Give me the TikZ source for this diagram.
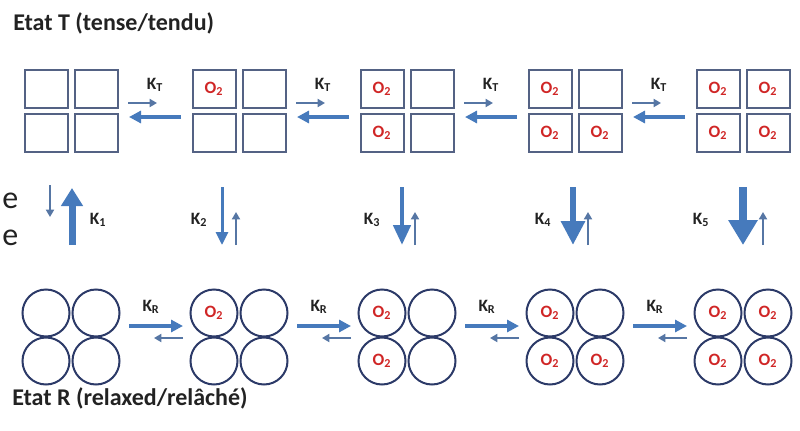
\documentclass[tikz,border=0pt]{standalone}
\usepackage{fontspec}
\setmainfont{Carlito}
\usetikzlibrary{arrows.meta,calc}
\definecolor{bordcarre}{RGB}{84,98,132}
\definecolor{bordrond}{RGB}{44,58,104}
\definecolor{bleufleche}{RGB}{70,122,188}
\definecolor{bleufin}{RGB}{86,118,164}
\definecolor{rougeO}{RGB}{208,38,38}
\definecolor{texte}{RGB}{34,34,34}

\begin{document}
\begin{tikzpicture}[x=0.75pt, y=0.75pt,
  oxy/.style={text=rougeO, font=\bfseries\fontsize{13}{13}\selectfont},
  carre/.style={draw=bordcarre, line width=1.5pt, minimum width=32.25pt, minimum height=28.5pt, inner sep=0pt, oxy},
  cercle/.style={draw=bordrond, circle, line width=1.5pt, minimum size=35.25pt, inner sep=0pt, oxy},
  kval/.style={text=texte, font=\bfseries\fontsize{13}{13}\selectfont, inner sep=0pt},
  titre/.style={text=texte, font=\bfseries\fontsize{18}{20}\selectfont, inner sep=0pt, anchor=base west},
  bout/.style={text=texte, font=\fontsize{24}{24}\selectfont, inner sep=0pt, anchor=base west},
  fl/.style n args={3}{draw=bleufleche, line width=#1, -{Triangle[width=#2, length=#3]}},
  flfin/.style={draw=bleufin, line width=1.5pt, -{Triangle[width=6pt, length=5.5pt]}}]
\useasboundingbox (0,0) rectangle (800,430);
% Titres
\node[titre] (titreT) at (13,400) {Etat T (tense/tendu)};
\node[titre] (titreR) at (12,25) {Etat R (relaxed/relâché)};
% bout de texte coupe a gauche
\node[bout] (e1) at (2,222) {e};
\node[bout] (e2) at (2,185) {e};
% Tetrameres : carres (T) en haut, cercles (R) en bas
\foreach \g in {1,...,5} {
  \coordinate (T\g) at ({71+168*(\g-1)},319);
  \coordinate (R\g) at ({71+168*(\g-1)},93);
  \foreach \cel/\dx/\sy [count=\k] in {a/-25/1, b/-25/-1, c/25/-1, d/25/1} {
    \node[carre] (T\g\cel) at ([shift={({\dx},{22*(\sy)})}]T\g) {\ifnum\k<\g O\textsubscript{2}\fi};
    \node[cercle] (R\g\cel) at ([shift={({\dx},{24*(\sy)})}]R\g) {\ifnum\k<\g O\textsubscript{2}\fi};
  }
}
% Constantes K_T et K_R
\foreach \g [evaluate=\g as \h using int(\g+1)] in {1,...,4} {
  \coordinate (mT\g) at ($(T\g)!0.5!(T\h)$);
  \draw[flfin] ([shift={(-27,8)}]mT\g) -- ([shift={(2,8)}]mT\g);
  \draw[fl={3pt}{9pt}{9pt}] ([shift={(26,-6)}]mT\g) -- ([shift={(-26,-6)}]mT\g);
  \node[kval] (kT\g) at ([shift={(0,26)}]mT\g) {K\textsubscript{T}};
  \coordinate (mR\g) at ($(R\g)!0.5!(R\h)$);
  \draw[fl={3pt}{9pt}{9pt}] ([shift={(-26,11)}]mR\g) -- ([shift={(28,11)}]mR\g);
  \draw[flfin] ([shift={(28,-1)}]mR\g) -- ([shift={(-1,-1)}]mR\g);
  \node[kval] (kR\g) at ([shift={(-4,30)}]mR\g) {K\textsubscript{R}};
}
% Constantes K1 ... K5
\draw[flfin] ([shift={(-21,-74)}]T1) -- ([shift={(-21,120)}]R1);
\draw[fl={5.25pt}{15.75pt}{13.5pt}] ([shift={(1,92)}]R1) -- ([shift={(1,-77)}]T1);
\node[kval] (k1) at ([shift={(27,117)}]R1) {K\textsubscript{1}};
\foreach \g/\xd/\xu/\xk/\lw/\hw/\hl in {2/-17/-3/-40/2.25pt/9pt/9.75pt, 3/-5/8/-35/3.4pt/12.75pt/15pt,
    4/-2/13/-32/4.9pt/17.25pt/18pt, 5/0/20/-42/6pt/21pt/18.75pt} {
  \draw[fl={\lw}{\hw}{\hl}] ([shift={(\xd,-76)}]T\g) -- ([shift={(\xd,92)}]R\g);
  \draw[flfin] ([shift={(\xu,92)}]R\g) -- ([shift={(\xu,125)}]R\g);
  \node[kval] (k\g) at ([shift={(\xk,117)}]R\g) {K\textsubscript{\g}};
}
\end{tikzpicture}
\end{document}
